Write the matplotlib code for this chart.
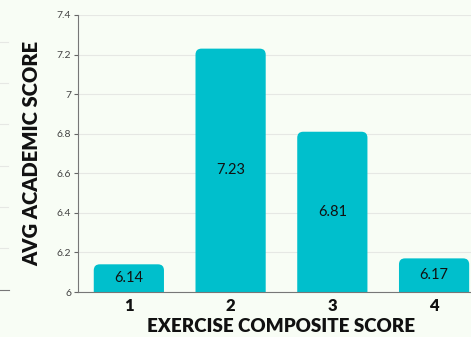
import matplotlib.pyplot as plt
from matplotlib.patches import FancyBboxPatch
from matplotlib.lines import Line2D

# data
exercise_score = ['1', '2', '3', '4']
avg_academic = [6.14, 7.23, 6.81, 6.17]
y_ticks = [6, 6.2, 6.4, 6.6, 6.8, 7, 7.2, 7.4]
y_tick_labels = ['6', '6.2', '6.4', '6.6', '6.8', '7', '7.2', '7.4']

bg = '#f8fdf5'
teal = '#00bfcc'

plt.rcParams['font.family'] = ['Lato', 'DejaVu Sans']

fig = plt.figure(figsize=(4.71, 3.37), dpi=100, facecolor=bg)
ax = fig.add_axes([0.1656, 0.1335, 0.864, 0.822], facecolor=bg)

xs = list(range(len(exercise_score)))
bars = ax.bar(xs, avg_academic, width=0.69, color=teal, bottom=0)
ax.set_ylim(6, 7.4)
ax.set_xlim(-0.5, 3.5)

# swap the plain bars for rounded ones (top corners only visible)
px_x = 4.0 / (0.864 * 471)
px_y = 1.4 / (0.822 * 337)
for b, v in zip(bars, avg_academic):
    x0 = b.get_x()
    w = b.get_width()
    b.set_visible(False)
    rp = FancyBboxPatch((x0, 5.8), w, v - 5.8,
                        boxstyle='round,pad=0,rounding_size=%f' % (6 * px_x),
                        mutation_aspect=px_y / px_x,
                        facecolor=teal, edgecolor='none', zorder=2)
    ax.add_patch(rp)
    ax.text(x0 + w / 2, (6 + v) / 2, '%.2f' % v, ha='center', va='center',
            fontsize=10.5, color='#111111', zorder=3)

ax.set_yticks(y_ticks)
ax.set_yticklabels(y_tick_labels, fontsize=7.5, color='#444444')
ax.set_xticks(xs)
ax.set_xticklabels(exercise_score, fontsize=12, fontweight='heavy', color='#111111')
ax.tick_params(axis='x', length=0, pad=4)
ax.tick_params(axis='y', length=3, color='#666666', width=0.8, pad=2)
ax.grid(axis='y', color='#e6e8e4', linewidth=0.8, zorder=0)
ax.set_axisbelow(True)
for s in ['top', 'right']:
    ax.spines[s].set_visible(False)
ax.spines['left'].set_color('#777777')
ax.spines['bottom'].set_color('#777777')
ax.spines['left'].set_linewidth(0.8)
ax.spines['bottom'].set_linewidth(0.8)

ax.set_xlabel('EXERCISE COMPOSITE SCORE', fontsize=13.5, fontweight='heavy',
              color='#111111', labelpad=3)
ax.set_ylabel('AVG ACADEMIC SCORE', fontsize=14.5, fontweight='heavy',
              color='#111111', labelpad=11)

# edge of the neighbouring chart on the left
for yy in [42, 83, 124, 166, 207, 248]:
    fig.add_artist(Line2D([0, 8 / 471], [1 - yy / 337] * 2, color='#e6e8e4', lw=0.8))
fig.add_artist(Line2D([0, 9 / 471], [1 - 290 / 337] * 2, color='#777777', lw=0.8))

fig.savefig('out.png', dpi=100, facecolor=bg)
